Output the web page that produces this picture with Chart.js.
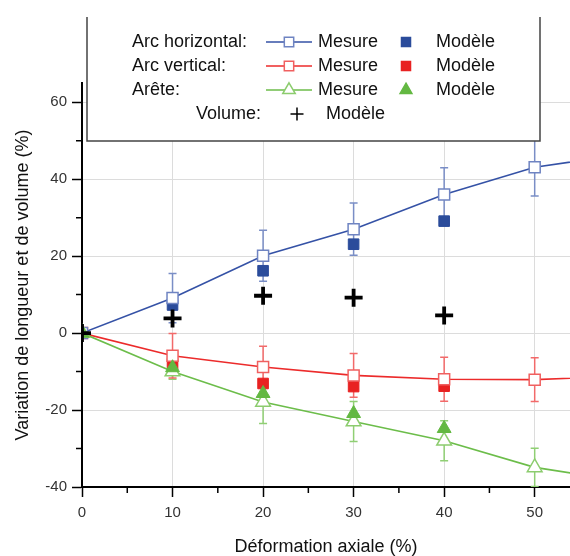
<!DOCTYPE html>
<html>
<head>
<meta charset="utf-8">
<script src="https://cdn.jsdelivr.net/npm/chart.js@4.4.0/dist/chart.umd.min.js"></script>
<style>
  html, body { margin: 0; padding: 0; background: #fff; overflow: hidden; }
  #wrap { width: 570px; height: 556px; position: relative; }
  canvas { display: block; }
</style>
</head>
<body>
<div id="wrap"><canvas id="chart"></canvas></div>
<script>
// values (%)
const deformation = [0, 10, 20, 30, 40, 50, 60];
const horizMesure = [0, 9.1, 20.1, 27.0, 36.0, 43.1, 46.5];
const horizErr = [0, 6.4, 6.6, 6.8, 7.0, 7.5, null];
const horizModele = [0, 7.3, 16.2, 23.1, 29.1];
const vertMesure = [0, -5.9, -8.8, -11.0, -12.0, -12.1, -11.2];
const vertErr = [0, 5.8, 5.4, 5.7, 5.7, 5.7, null];
const vertModele = [0, -8.0, -13.1, -13.9, -13.8];
const areteMesure = [0, -10.0, -17.9, -23.0, -28.0, -34.9, -38.6];
const areteErr = [0, 2.0, 5.6, 5.2, 5.2, 5.0, null];
const areteModele = [0, -9.0, -15.7, -20.9, -24.8];
const volumeModele = [0, 3.8, 9.7, 9.2, 4.6];

const xTicks = [0, 10, 20, 30, 40, 50];
const xMinor = [5, 15, 25, 35, 45];
const yTicks = [-40, -20, 0, 20, 40, 60];
const yMinor = [-30, -10, 10, 30, 50];

const seriesNames = ['Arc horizontal:', 'Arc vertical:', 'Arête:', 'Volume:'];

const pts = (vals) => vals.map((v, i) => ({ x: deformation[i], y: v }));

Chart.defaults.font.family = "'Liberation Sans', Arial, sans-serif";
Chart.defaults.color = '#333';

// error bars under the markers
const errorBars = {
  id: 'errorBars',
  beforeDatasetsDraw(chart) {
    const { ctx, chartArea, scales: { x, y } } = chart;
    ctx.save();
    ctx.beginPath();
    ctx.rect(chartArea.left, chartArea.top, chartArea.width, chartArea.height);
    ctx.clip();
    chart.data.datasets.forEach(ds => {
      if (!ds.errors) return;
      ctx.strokeStyle = ds.errorColor;
      ctx.lineWidth = 1.5;
      ds.data.forEach((p, i) => {
        const e = ds.errors[i];
        if (!e) return;
        const px = x.getPixelForValue(p.x);
        const top = y.getPixelForValue(p.y + e);
        const bot = y.getPixelForValue(p.y - e);
        ctx.beginPath();
        ctx.moveTo(px, top); ctx.lineTo(px, bot);
        ctx.moveTo(px - 4, top); ctx.lineTo(px + 4, top);
        ctx.moveTo(px - 4, bot); ctx.lineTo(px + 4, bot);
        ctx.stroke();
      });
    });
    ctx.restore();
  }
};

// minor ticks + legend box
const extras = {
  id: 'extras',
  afterDraw(chart) {
    const { ctx, chartArea, scales: { x, y } } = chart;
    ctx.save();
    ctx.strokeStyle = '#000';
    ctx.lineWidth = 1.5;
    ctx.beginPath();
    xMinor.forEach(v => {
      const px = x.getPixelForValue(v);
      ctx.moveTo(px, chartArea.bottom); ctx.lineTo(px, chartArea.bottom + 6);
    });
    yMinor.forEach(v => {
      const py = y.getPixelForValue(v);
      ctx.moveTo(chartArea.left, py); ctx.lineTo(chartArea.left - 6, py);
    });
    ctx.stroke();

    // legend
    ctx.fillStyle = '#fff';
    ctx.fillRect(87, 17, 453, 124);
    ctx.strokeStyle = '#444';
    ctx.lineWidth = 1.5;
    ctx.beginPath();
    ctx.moveTo(87, 17); ctx.lineTo(87, 141); ctx.lineTo(540, 141); ctx.lineTo(540, 17);
    ctx.stroke();

    const ds = chart.data.datasets;
    const rows = [[ds[3], ds[4]], [ds[5], ds[6]], [ds[2], ds[1]]];
    ctx.font = "18px 'Liberation Sans', Arial, sans-serif";
    ctx.textBaseline = 'middle';
    ctx.textAlign = 'left';
    rows.forEach(([mes, mod], r) => {
      const cy = 42 + r * 24;
      ctx.fillStyle = '#111';
      ctx.fillText(seriesNames[r], 132, cy);
      ctx.fillText('Mesure', 318, cy);
      ctx.fillText('Modèle', 436, cy);
      ctx.strokeStyle = mes.borderColor;
      ctx.lineWidth = 1.5;
      ctx.beginPath(); ctx.moveTo(266, cy); ctx.lineTo(312, cy); ctx.stroke();
      ctx.fillStyle = '#fff';
      ctx.strokeStyle = mes.pointBorderColor;
      Chart.helpers.drawPoint(ctx, { pointStyle: mes.pointStyle, radius: mes.pointRadius * 0.85, rotation: 0, borderWidth: 1.5 }, 289, cy);
      ctx.fillStyle = mod.backgroundColor;
      ctx.strokeStyle = mod.backgroundColor;
      Chart.helpers.drawPoint(ctx, { pointStyle: mod.pointStyle, radius: mod.pointRadius * 0.85, rotation: 0, borderWidth: 1 }, 406, cy);
    });
    const cy = 42 + 3 * 24;
    ctx.fillStyle = '#111';
    ctx.fillText(seriesNames[3], 196, cy);
    ctx.fillText('Modèle', 326, cy);
    ctx.strokeStyle = '#000';
    Chart.helpers.drawPoint(ctx, { pointStyle: 'cross', radius: 6.5, rotation: 0, borderWidth: 3.5 }, 297, cy);
    ctx.restore();
  }
};

new Chart(document.getElementById('chart'), {
  type: 'line',
  data: {
    datasets: [
      {
        label: 'Volume Modèle', data: pts(volumeModele), order: 0, showLine: false,
        pointStyle: 'cross', pointRadius: 9, pointBorderWidth: 3.8,
        pointBorderColor: '#000', borderColor: '#000'
      },
      {
        label: 'Arête Modèle', data: pts(areteModele), order: 1, showLine: false,
        pointStyle: 'triangle', pointRadius: 8, pointBorderWidth: 1,
        backgroundColor: '#63b842', pointBackgroundColor: '#63b842', pointBorderColor: '#63b842'
      },
      {
        label: 'Arête Mesure', data: pts(areteMesure), order: 2,
        borderColor: '#6cbd4a', borderWidth: 1.6,
        pointStyle: 'triangle', pointRadius: 8.5, pointBorderWidth: 1.5,
        pointBackgroundColor: '#fff', pointBorderColor: '#8ccc6e',
        errors: areteErr, errorColor: '#90cf74'
      },
      {
        label: 'Arc horizontal Mesure', data: pts(horizMesure), order: 3,
        borderColor: '#3552a6', borderWidth: 1.6,
        pointStyle: 'rect', pointRadius: 7.8, pointBorderWidth: 1.5,
        pointBackgroundColor: '#fff', pointBorderColor: '#6f84c2',
        errors: horizErr, errorColor: '#7a8ec6'
      },
      {
        label: 'Arc horizontal Modèle', data: pts(horizModele), order: 4, showLine: false,
        pointStyle: 'rect', pointRadius: 7.5, pointBorderWidth: 1,
        backgroundColor: '#2b4c9b', pointBackgroundColor: '#2b4c9b', pointBorderColor: '#2b4c9b'
      },
      {
        label: 'Arc vertical Mesure', data: pts(vertMesure), order: 5,
        borderColor: '#ec2b2b', borderWidth: 1.6,
        pointStyle: 'rect', pointRadius: 7.8, pointBorderWidth: 1.5,
        pointBackgroundColor: '#fff', pointBorderColor: '#f06060',
        errors: vertErr, errorColor: '#f26a6a'
      },
      {
        label: 'Arc vertical Modèle', data: pts(vertModele), order: 6, showLine: false,
        pointStyle: 'rect', pointRadius: 7.5, pointBorderWidth: 1,
        backgroundColor: '#e82222', pointBackgroundColor: '#e82222', pointBorderColor: '#e82222'
      }
    ]
  },
  options: {
    responsive: true,
    maintainAspectRatio: false,
    animation: false,
    events: [],
    layout: { autoPadding: false, padding: { top: 83, right: 0, left: 0, bottom: 0 } },
    plugins: { legend: { display: false }, tooltip: { enabled: false } },
    scales: {
      x: {
        type: 'linear', min: 0, max: 53.9,
        afterBuildTicks: s => { s.ticks = xTicks.map(v => ({ value: v })); },
        afterFit: s => { s.height = 69; s.paddingLeft = 0; s.paddingRight = 0; },
        grid: { color: '#dcdcdc', lineWidth: 1, tickColor: '#000', tickLength: 10, tickWidth: 1.5 },
        border: { color: '#000', width: 2 },
        ticks: { font: { size: 15 }, padding: 7, maxRotation: 0 },
        title: { display: true, text: 'Déformation axiale (%)', font: { size: 18, lineHeight: 1 }, color: '#111', padding: { top: 0, bottom: 0 } }
      },
      y: {
        type: 'linear', min: -40, max: 65,
        afterBuildTicks: s => { s.ticks = yTicks.map(v => ({ value: v })); },
        afterFit: s => { s.width = 82; s.paddingTop = 0; s.paddingBottom = 0; },
        grid: { color: '#dcdcdc', lineWidth: 1, tickColor: '#000', tickLength: 10, tickWidth: 1.5 },
        border: { color: '#000', width: 2 },
        ticks: { font: { size: 15 }, padding: 5 },
        title: { display: true, text: 'Variation de longueur et de volume (%)', font: { size: 18, lineHeight: 1 }, color: '#111', padding: { top: 14, bottom: 0 } }
      }
    }
  },
  plugins: [errorBars, extras]
});
</script>
</body>
</html>
